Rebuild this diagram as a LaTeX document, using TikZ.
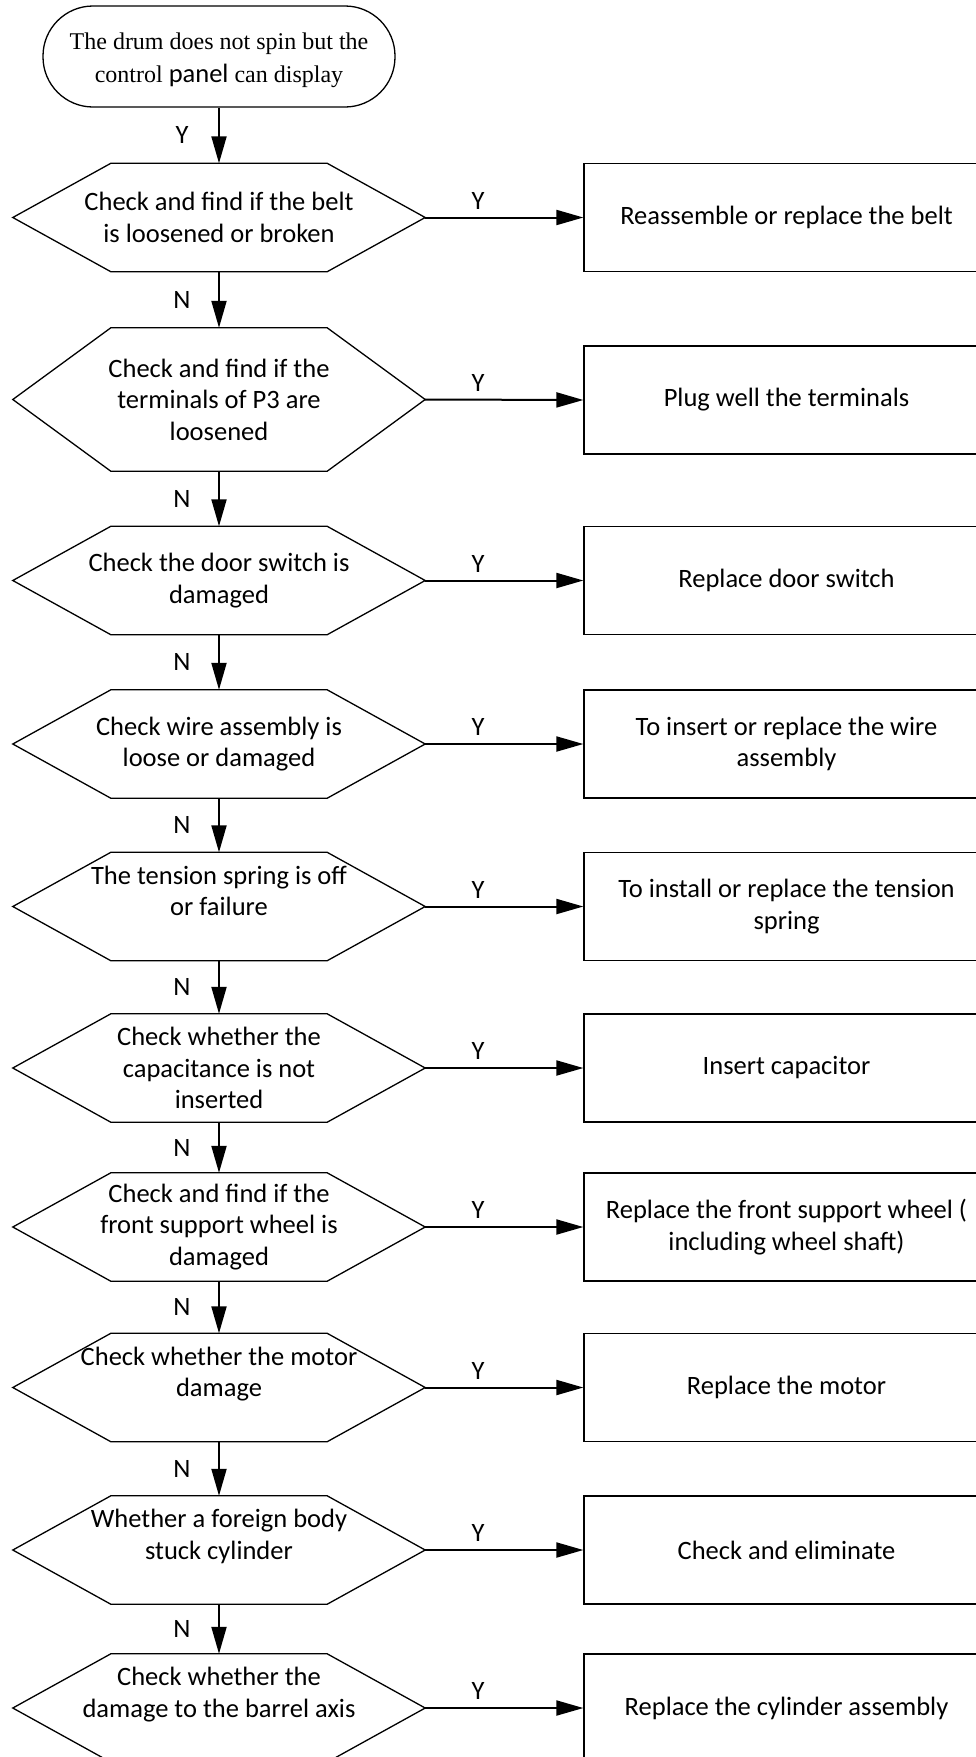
\documentclass[tikz,border=0pt]{standalone}
\usepackage{fontspec}
\setmainfont{Carlito}
\newfontfamily\serifpart{Liberation Serif}
\usetikzlibrary{arrows.meta}

\begin{document}
\begin{tikzpicture}[x=1pt, y=-1pt, >={Triangle[length=27pt,width=15pt]},
    every node/.style={font=\fontsize{26.5}{31.5}\selectfont},
    decision/.style={minimum width=412pt, minimum height=108pt, inner sep=0pt, align=center},
    action/.style={draw, line width=1.3pt, minimum width=405pt, minimum height=108pt, inner sep=0pt, align=center},
    frame/.style={line width=1.3pt},
    flow/.style={->, line width=2pt},
    yestext/.style={pos=0.335, yshift=17pt},
    notext/.style={midway, xshift=-37pt}]
    \useasboundingbox (0,0) rectangle (976,1757);

    % start of the check
    \node[draw, line width=1.3pt, rounded corners=50pt, minimum width=352pt, minimum height=101pt, inner sep=0pt, align=center,
          font=\serifpart\fontsize{24}{33}\selectfont] (start) at (219,56.5)
          {\rule{0pt}{23.5pt}The drum does not spin but the\\control {\normalfont\fontsize{26.5}{33}\selectfont panel} can display};

    % checks on the left
    \node[decision] (d1) at (219,217.5) {Check and find if the belt\\is loosened or broken};
    \node[decision, minimum height=143pt] (d2) at (219,399.5) {Check and find if the\\terminals of P3 are\\loosened};
    \node[decision] (d3) at (219,580.5) {Check the door switch is\\damaged};
    \node[decision] (d4) at (219,744) {Check wire assembly is\\loose or damaged};
    \node[decision] (d5) at (219,906.5) {The tension spring is off\\or failure\\\mbox{}};
    \node[decision] (d6) at (219,1068) {Check whether the\\capacitance is not\\inserted};
    \node[decision] (d7) at (219,1227) {Check and find if the\\front support wheel is\\damaged};
    \node[decision] (d8) at (219,1387.5) {Check whether the motor\\damage\\\mbox{}};
    \node[decision] (d9) at (219,1550) {Whether a foreign body\\stuck cylinder\\\mbox{}};
    \node[decision] (d10) at (219,1708) {Check whether the\\damage to the barrel axis\\\mbox{}};

    % repairs on the right
    \node[action] (a1) at (786.5,217.5) {Reassemble or replace the belt};
    \node[action] (a2) at (786.5,400) {Plug well the terminals};
    \node[action] (a3) at (786.5,580.5) {Replace door switch};
    \node[action] (a4) at (786.5,744) {To insert or replace the wire\\assembly};
    \node[action] (a5) at (786.5,906.5) {To install or replace the tension\\spring};
    \node[action] (a6) at (786.5,1068) {Insert capacitor};
    \node[action] (a7) at (786.5,1227) {Replace the front support wheel (\\including wheel shaft)};
    \node[action] (a8) at (786.5,1387.5) {Replace the motor};
    \node[action] (a9) at (786.5,1550) {Check and eliminate};
    \node[action] (a10) at (786.5,1708) {Replace the cylinder assembly};

    % hexagon frames
    \foreach \d in {d1,d2,d3,d4,d5,d6,d7,d8,d9,d10}
        \draw[frame] (\d.west) -- ([xshift=98pt]\d.north west) -- ([xshift=-98pt]\d.north east)
            -- (\d.east) -- ([xshift=-98pt]\d.south east) -- ([xshift=98pt]\d.south west) -- cycle;

    \draw[flow] (start.south) -- node[notext] {Y} (d1.north);
    \foreach \a/\b in {d1/d2,d2/d3,d3/d4,d4/d5,d5/d6,d6/d7,d7/d8,d8/d9,d9/d10}
        \draw[flow] (\a.south) -- node[notext] {N} (\b.north);
    \foreach \i in {1,...,10}
        \draw[flow] (d\i.east) -- node[yestext] {Y} (a\i.west);
\end{tikzpicture}
\end{document}
